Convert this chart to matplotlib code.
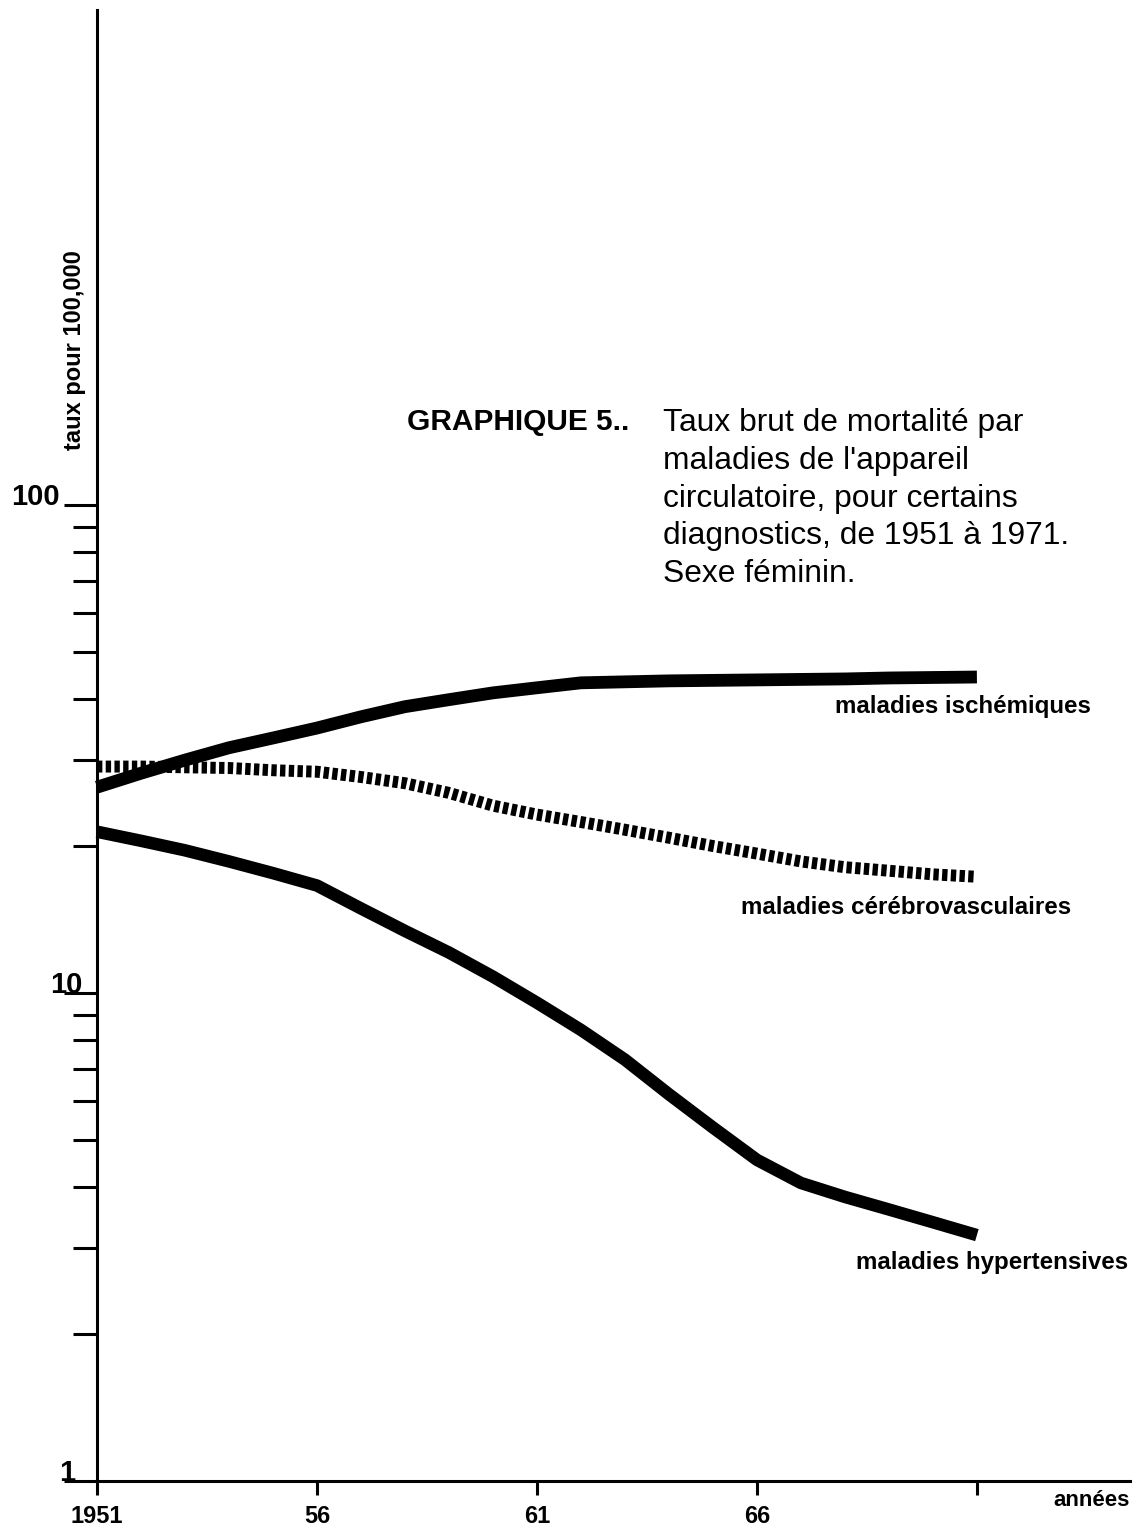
import matplotlib
matplotlib.use('Agg')
import matplotlib.pyplot as plt
from matplotlib.ticker import FixedLocator, NullFormatter

# ---- data ----
years = list(range(1951, 1972))
ischemiques = [26.4, 28.2, 30.0, 31.8, 33.3, 34.9, 36.8, 38.6, 39.9, 41.2, 42.2,
               43.2, 43.4, 43.6, 43.7, 43.8, 43.9, 44.0, 44.2, 44.3, 44.4]
cerebrovasculaires = [29.1, 29.1, 29.0, 28.9, 28.6, 28.4, 27.7, 26.9, 25.7, 24.2, 23.2,
                      22.4, 21.6, 20.8, 20.0, 19.3, 18.6, 18.1, 17.8, 17.5, 17.3]
hypertensives = [21.4, 20.5, 19.6, 18.6, 17.6, 16.6, 14.9, 13.4, 12.1, 10.8, 9.55,
                 8.40, 7.30, 6.20, 5.30, 4.55, 4.08, 3.82, 3.60, 3.39, 3.19]

x_ticks = [1951, 1956, 1961, 1966, 1971]
x_tick_labels = ['1951', '56', '61', '66', '']
y_major = [1, 10, 100]
y_major_labels = ['1', '10', '100']
y_minor = [2, 3, 4, 5, 6, 7, 8, 9, 20, 30, 40, 50, 60, 70, 80, 90]

series_labels = ['maladies ischémiques', 'maladies cérébrovasculaires', 'maladies hypertensives']
title_left = 'GRAPHIQUE 5..'
title_right = ("Taux brut de mortalité par\nmaladies de l'appareil\n"
               "circulatoire, pour certains\ndiagnostics, de 1951 à 1971.\nSexe féminin.")
y_label = 'taux pour 100,000'
x_label = 'années'

# ---- figure ----
plt.rcParams['font.family'] = ['Liberation Sans', 'DejaVu Sans']
W, H = 1137, 1530
fig = plt.figure(figsize=(W / 100, H / 100), dpi=100)
fig.patch.set_facecolor('white')
ax = fig.add_axes([97 / W, 49 / H, 1033 / W, 1471 / H])
ax.set_yscale('log')
ax.set_xlim(1951, 1974.48)
ax.set_ylim(1, 1033)

ax.plot(years, ischemiques, color='black', lw=9.2, solid_capstyle='butt',
        solid_joinstyle='round', clip_on=False)
ax.plot(years, cerebrovasculaires, color='black', lw=8.6, linestyle=(0, (0.45, 0.28)),
        dash_capstyle='butt', clip_on=False)
ax.plot(years, hypertensives, color='black', lw=9.0, solid_capstyle='butt',
        solid_joinstyle='round', clip_on=False)

for s in ['top', 'right']:
    ax.spines[s].set_visible(False)
for s in ['left', 'bottom']:
    ax.spines[s].set_linewidth(2.2)
    ax.spines[s].set_color('black')

ax.yaxis.set_major_locator(FixedLocator(y_major))
ax.yaxis.set_minor_locator(FixedLocator(y_minor))
ax.yaxis.set_major_formatter(NullFormatter())
ax.yaxis.set_minor_formatter(NullFormatter())
ax.tick_params(axis='y', which='major', direction='out', length=24, width=2.2)
ax.tick_params(axis='y', which='minor', direction='out', length=17, width=2.2)

ax.set_xticks(x_ticks)
ax.set_xticklabels(x_tick_labels, fontsize=17, fontweight='bold')
ax.xaxis.set_minor_locator(FixedLocator([]))
ax.tick_params(axis='x', which='major', direction='out', length=10, width=2.2, pad=7)

# y tick labels (sit on the tick line, to its left)
ytr = ax.get_yaxis_transform()
label_x = [-0.0213, -0.0136, -0.0358]
for val, lab, lx in zip(y_major, y_major_labels, label_x):
    ax.text(lx, val, lab, transform=ytr, ha='right', va='baseline',
            fontsize=21, fontweight='bold')

fig.text(1130 / W, 1 - 1500 / H, x_label, ha='right', va='center',
         fontsize=16, fontweight='bold')

fig.text(75 / W, 1 - 350 / H, y_label, rotation=90, ha='center', va='center',
         fontsize=17, fontweight='bold')

fig.text(407 / W, 1 - 422 / H, title_left, ha='left', va='center',
         fontsize=21.5, fontweight='bold')
fig.text(663 / W, 1 - 408 / H, title_right, ha='left', va='top',
         fontsize=22.9, linespacing=1.34)

label_pos = [(835, 707), (741, 907), (856, 1262)]
for lab, (px, py) in zip(series_labels, label_pos):
    fig.text(px / W, 1 - py / H, lab, ha='left', va='center',
             fontsize=17.4, fontweight='bold')

fig.savefig('out.png', dpi=100, facecolor='white')
